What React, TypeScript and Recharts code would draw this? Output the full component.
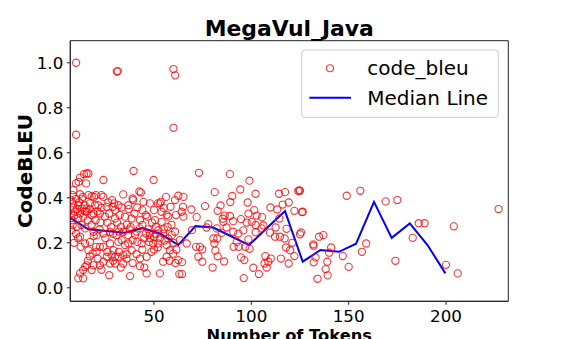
import React from "react";
import { ComposedChart, Scatter, Line, XAxis, YAxis, ReferenceArea, Label } from "recharts";

// scatter: number of tokens (x) vs CodeBLEU (y)
const tokens = [
  10, 10, 30.9, 31.4, 60, 60.9, 60, 15.4, 14, 16.3,
  12, 9.9, 11.3, 15.1, 24, 39.5, 49.8, 8.6, 8.2, 12,
  13.4, 16.3, 18, 19.2, 23, 20.2, 24, 34.2, 39, 43.3,
  42.5, 44.6, 53.5, 52, 56.2, 62.5, 60.8, 7.2, 8.6, 11.1,
  13, 14.4, 15.4, 17.1, 19.7, 21.4, 25.7, 28.8, 30, 31.7,
  33.4, 36.8, 39.3, 41.4, 45.8, 47.9, 53, 53.9, 56.5, 9.4,
  12, 13.7, 15.4, 17.9, 22.2, 24.8, 27, 30, 32.4, 35.1,
  38.5, 42.8, 46.5, 50.5, 53.9, 57.3, 61.3, 65.1, 7.7, 8.2,
  10.3, 12.8, 14.6, 18.9, 20.5, 24, 27.4, 30.8, 34.2, 36.8,
  40.2, 42.8, 45.8, 47.9, 50.1, 52.2, 54.7, 57.3, 59.1, 60.8,
  63.3, 12, 14.6, 17.1, 20.2, 22.2, 24, 27.4, 29.1, 31.7,
  33.4, 35.1, 36.8, 39, 41.4, 43.6, 47.5, 49.6, 52.2, 56.5,
  58.2, 12.3, 16.3, 18.5, 20.5, 25.7, 28.2, 30, 31.7, 34.2,
  35.9, 38.5, 42.8, 46.2, 48.7, 34.2, 30, 22.2, 24, 27.4,
  54.7, 56.5, 59.8, 62.5, 14.6, 15.4, 13.6, 12, 11.1, 13.6,
  18, 27, 37.7, 42.8, 46.2, 53, 63, 8, 9, 10.5,
  11, 16, 18, 20, 22.5, 26, 28, 31, 33, 36,
  38, 44, 47, 49, 51, 55, 57, 59, 7.5, 8.5,
  10, 11.5, 13, 14.5, 17, 19, 21, 23, 26.5, 28.5,
  29.5, 37, 40, 44, 50, 55, 58.5, 9, 10, 11,
  19, 22, 25, 29, 32, 37.5, 41, 45, 48, 51,
  53, 55.5, 60, 61.5, 16, 17, 21, 26, 29, 32,
  36, 39, 41, 44, 50, 52, 58, 61, 19, 23,
  33, 45, 73.1, 89, 99, 81.2, 94.3, 102.2, 90.2, 89.2,
  114.2, 117.3, 124.1, 124.6, 119.2, 116.1, 109.8, 113.3, 122.1, 126,
  98.1, 84.2, 76.2, 69.2, 64.9, 64.2, 71.9, 86.3, 82.7, 85.3,
  89, 90.7, 94.7, 98.5, 102.7, 106.2, 102.2, 105.5, 109.6, 112.5,
  114.7, 117.8, 117.1, 119.9, 122.1, 125, 131.8, 69.5, 66.8, 64.4,
  64.4, 72.8, 74.8, 73.6, 71.6, 74.8, 80.5, 82.5, 81, 81.5,
  86, 80.1, 82.7, 90.9, 93.5, 92.5, 96.9, 98.5, 99.1, 94.7,
  96.4, 96.1, 101, 103.9, 107.2, 107.9, 108.7, 106.8, 115.2, 119.2,
  114.4, 118.1, 112.2, 102.2, 105.3, 95.9, 93.3, 90.7, 87.3, 84.8,
  85.6, 77.9, 77, 82.2, 97.6, 100.2, 101.5, 65.1, 125, 126.4,
  125.5, 149, 156, 169, 175, 186, 189, 182.9, 204, 227,
  132, 133, 132, 134.8, 137, 141, 140, 139, 138.2, 139.2,
  134, 147, 150, 156.8, 159, 174, 200, 206, 110, 121,
];

const codeBleu = [
  1.0, 0.68, 0.961, 0.963, 0.972, 0.944, 0.711, 0.508, 0.505, 0.508,
  0.49, 0.464, 0.471, 0.464, 0.479, 0.519, 0.479, 0.434, 0.412, 0.416,
  0.404, 0.412, 0.407, 0.404, 0.412, 0.412, 0.404, 0.415, 0.397, 0.423,
  0.428, 0.382, 0.382, 0.375, 0.404, 0.409, 0.39, 0.39, 0.375, 0.367,
  0.352, 0.367, 0.352, 0.375, 0.367, 0.367, 0.36, 0.36, 0.345, 0.367,
  0.357, 0.367, 0.39, 0.357, 0.323, 0.375, 0.375, 0.338, 0.323, 0.338,
  0.33, 0.316, 0.338, 0.323, 0.33, 0.316, 0.33, 0.308, 0.323, 0.316,
  0.308, 0.301, 0.316, 0.301, 0.293, 0.316, 0.323, 0.316, 0.256, 0.279,
  0.271, 0.279, 0.264, 0.249, 0.234, 0.241, 0.249, 0.234, 0.249, 0.234,
  0.234, 0.264, 0.241, 0.241, 0.227, 0.256, 0.241, 0.219, 0.234, 0.249,
  0.212, 0.227, 0.197, 0.204, 0.182, 0.182, 0.182, 0.197, 0.167, 0.204,
  0.212, 0.19, 0.197, 0.212, 0.204, 0.197, 0.204, 0.197, 0.197, 0.19,
  0.167, 0.182, 0.167, 0.152, 0.16, 0.138, 0.145, 0.138, 0.138, 0.145,
  0.13, 0.167, 0.13, 0.138, 0.16, 0.108, 0.108, 0.1, 0.116, 0.108,
  0.116, 0.138, 0.152, 0.123, 0.093, 0.1, 0.079, 0.064, 0.042, 0.042,
  0.079, 0.056, 0.052, 0.096, 0.064, 0.064, 0.061, 0.3, 0.32, 0.35,
  0.31, 0.3, 0.28, 0.3, 0.29, 0.29, 0.27, 0.29, 0.27, 0.28,
  0.27, 0.28, 0.26, 0.29, 0.27, 0.26, 0.27, 0.28, 0.33, 0.355,
  0.395, 0.38, 0.395, 0.34, 0.35, 0.33, 0.34, 0.355, 0.38, 0.39,
  0.375, 0.35, 0.33, 0.345, 0.345, 0.355, 0.36, 0.2, 0.24, 0.22,
  0.23, 0.26, 0.22, 0.24, 0.25, 0.26, 0.25, 0.22, 0.22, 0.24,
  0.22, 0.21, 0.2, 0.17, 0.12, 0.14, 0.13, 0.16, 0.12, 0.16,
  0.15, 0.11, 0.15, 0.17, 0.17, 0.18, 0.12, 0.11, 0.1, 0.08,
  0.09, 0.09, 0.511, 0.505, 0.476, 0.425, 0.437, 0.418, 0.408, 0.381,
  0.418, 0.425, 0.43, 0.433, 0.379, 0.37, 0.357, 0.348, 0.342, 0.336,
  0.379, 0.366, 0.363, 0.348, 0.36, 0.338, 0.314, 0.321, 0.342, 0.307,
  0.319, 0.296, 0.305, 0.33, 0.321, 0.277, 0.279, 0.314, 0.245, 0.268,
  0.227, 0.179, 0.219, 0.167, 0.141, 0.238, 0.193, 0.256, 0.197, 0.114,
  0.061, 0.138, 0.116, 0.182, 0.182, 0.17, 0.219, 0.219, 0.197, 0.165,
  0.117, 0.09, 0.14, 0.182, 0.182, 0.204, 0.182, 0.215, 0.173, 0.135,
  0.123, 0.043, 0.089, 0.061, 0.141, 0.09, 0.116, 0.108, 0.13, 0.108,
  0.308, 0.262, 0.227, 0.247, 0.264, 0.255, 0.241, 0.249, 0.268, 0.244,
  0.293, 0.283, 0.268, 0.264, 0.29, 0.293, 0.345, 0.404, 0.431, 0.338,
  0.246, 0.409, 0.431, 0.384, 0.39, 0.287, 0.287, 0.222, 0.273, 0.35,
  0.187, 0.135, 0.113, 0.227, 0.234, 0.179, 0.156, 0.116, 0.083, 0.055,
  0.04, 0.141, 0.093, 0.16, 0.197, 0.12, 0.102, 0.064, 0.13, 0.2,
];

// binned median line
const medianTokens = [7, 16.3, 25.5, 34.8, 44, 53.3, 62.5, 71.3, 80.4, 89.6, 98.8, 108, 117.3, 126.4, 135.5, 145, 153.8, 163, 172.1, 181.4, 190.5, 199.7];
const medianBleu = [0.311, 0.26, 0.252, 0.245, 0.265, 0.24, 0.19, 0.274, 0.268, 0.229, 0.19, 0.266, 0.341, 0.116, 0.168, 0.16, 0.196, 0.382, 0.222, 0.286, 0.19, 0.064];

const xTicks = [50, 100, 150, 200];
const yTicks = [0, 0.2, 0.4, 0.6, 0.8, 1.0];
const xDomain = [7, 232];
const yDomain = [-0.06, 1.098];

const FONT = "DejaVu Sans";

const scatterData = tokens.map(function (t, i) { return { x: t, y: codeBleu[i] }; });
const medianData = medianTokens.map(function (t, i) { return { x: t, y: medianBleu[i] }; });

function RingShape(props: any) {
  if (props.cx == null || props.cy == null) return null;
  return <circle cx={props.cx} cy={props.cy} r={3.6} fill="none" stroke="#ff0000" strokeOpacity={0.8} strokeWidth={1.1} />;
}

export default function App() {
  return (
    <div style={{ position: "absolute", left: 0, top: 0, width: 565, height: 339, background: "#fff" }}>
      <ComposedChart width={565} height={339} margin={{ top: 40.7, right: 56.7, left: 0, bottom: 0 }}>
        <XAxis
          dataKey="x"
          type="number"
          domain={xDomain}
          allowDataOverflow
          ticks={xTicks}
          height={37.7}
          tickSize={3.5}
          tickMargin={5}
          axisLine={{ stroke: "#222" }}
          tickLine={{ stroke: "#222" }}
          tick={{ fill: "#000", fontSize: 16.7, fontFamily: FONT }}
        >
          <Label
            content={function (p: any) {
              var vb = p.viewBox || { x: 70.3, width: 438 };
              return (
                <text x={vb.x + vb.width / 2} y={341} textAnchor="middle" fontFamily={FONT} fontWeight="bold" fontSize={16.3} fill="#000">
                  Number of Tokens
                </text>
              );
            }}
          />
        </XAxis>
        <YAxis
          dataKey="y"
          type="number"
          domain={yDomain}
          allowDataOverflow
          ticks={yTicks}
          width={70.3}
          tickSize={3.5}
          tickMargin={3.5}
          axisLine={{ stroke: "#222" }}
          tickLine={{ stroke: "#222" }}
          tickFormatter={function (v: number) { return v.toFixed(1); }}
          tick={{ fill: "#000", fontSize: 16.7, fontFamily: FONT }}
        >
          <Label
            content={function (p: any) {
              var vb = p.viewBox || { y: 40.7, height: 260.6 };
              var cy = vb.y + vb.height / 2;
              return (
                <text x={31.7} y={cy} transform={"rotate(-90 31.7 " + cy + ")"} textAnchor="middle" fontFamily={FONT} fontWeight="bold" fontSize={20} fill="#000">
                  CodeBLEU
                </text>
              );
            }}
          />
        </YAxis>
        <ReferenceArea x1={xDomain[0]} x2={xDomain[1]} y1={yDomain[0]} y2={yDomain[1]} fill="none" stroke="#222" strokeWidth={1} ifOverflow="visible" />
        <Scatter name="code_bleu" data={scatterData} shape={RingShape} isAnimationActive={false} />
        <Line name="Median Line" data={medianData} dataKey="y" type="linear" stroke="#0000ff" strokeWidth={2} dot={false} activeDot={false} isAnimationActive={false} />
      </ComposedChart>
      <svg width={565} height={339} style={{ position: "absolute", left: 0, top: 0, pointerEvents: "none" }}>
        <text x={289.3} y={36} textAnchor="middle" fontFamily={FONT} fontWeight="bold" fontSize={21.9} fill="#000">
          MegaVul_Java
        </text>
        <rect x={301.7} y={50} width={196.6} height={67.3} rx={3} fill="#fff" fillOpacity={0.8} stroke="#cccccc" strokeWidth={1} />
        <circle cx={330} cy={68.3} r={3.5} fill="none" stroke="#ff0000" strokeOpacity={0.8} strokeWidth={1.1} />
        <text x={367.3} y={74.5} fontFamily={FONT} fontSize={20} fill="#000">code_bleu</text>
        <line x1={309.3} y1={97.7} x2={351} y2={97.7} stroke="#0000ff" strokeWidth={2} />
        <text x={367.3} y={104.5} fontFamily={FONT} fontSize={20} fill="#000">Median Line</text>
      </svg>
    </div>
  );
}
